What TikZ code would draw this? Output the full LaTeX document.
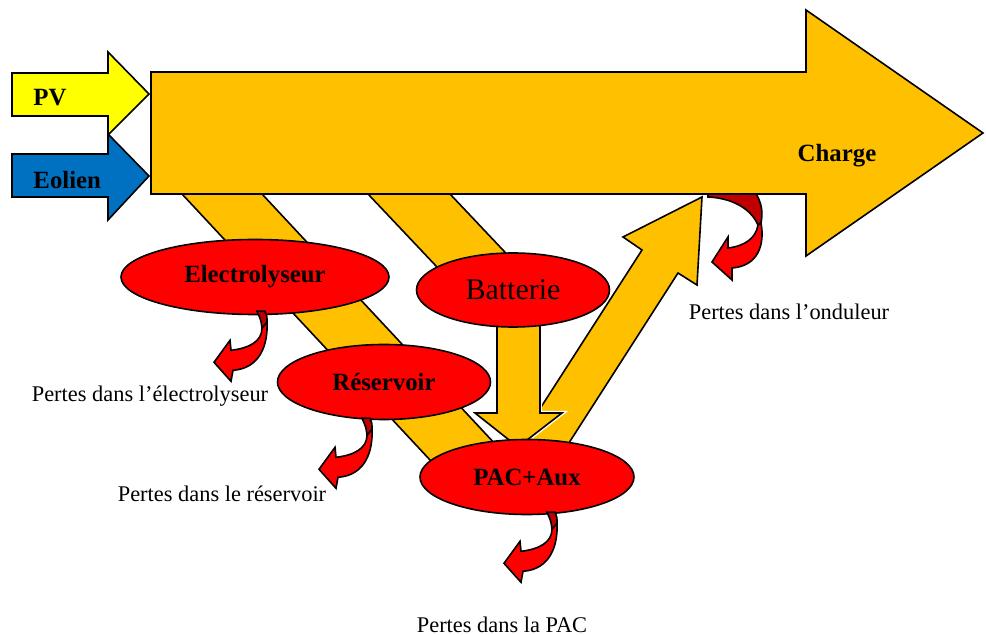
\documentclass[tikz,border=0pt]{standalone}
\usepackage{fontspec}
\setmainfont{Liberation Serif}
\usetikzlibrary{shapes.geometric}
\definecolor{orangeF}{HTML}{FFC000}
\definecolor{jaune}{HTML}{FFFF00}
\definecolor{bleu}{HTML}{0070C0}
\definecolor{rouge}{HTML}{FF0000}
\definecolor{rougeF}{HTML}{C00000}
\begin{document}
\begin{tikzpicture}[x=0.5pt,y=-0.5pt,line join=miter,line width=0.8pt,font=\fontsize{11.2}{13}\selectfont]
				\tikzset{
						bande/.style={draw,fill=orangeF},
						gras/.style={font=\fontsize{12.4}{14}\selectfont\bfseries},
						bulle/.style={ellipse,draw,fill=rouge,inner sep=0pt,gras},
						perte/.pic={
								\filldraw[fill=rougeF] (-4,-2)--(4,-2) .. controls (6,3) .. (6,9)--(1,15) .. controls (0,7) .. cycle;
								\filldraw[fill=rouge] (6,9) .. controls (7,30) and (0,55) .. (-28,57)--(-30,68)--(-47,49)--(-31,27)--(-30,37) .. controls (-12,35) and (1,28) .. (1,15)--cycle;
						}
				}
				\useasboundingbox (0,0) rectangle (986,635);
				% flux vers les stockages
				\draw[bande] (182,194)--(262,194)--(524,475)--(444,475)--cycle;
				\draw[bande] (368,194)--(450,194)--(536,285)--(454,285)--cycle;
				\draw[bande] (507,460)--(642,250)--(623,237)--(702,197)--(697,285)--(678,273)--(558,460)--cycle;
				\draw[bande,preaction={draw=white,line width=2.2pt}] (497,300)--(540,300)--(540,413)--(562,413)--(518,447)--(475,413)--(497,413)--cycle;
				% ellipses
				\node[bulle,minimum width=134pt,minimum height=37.5pt] (elec) at (255,277) {Electrolyseur};
				\node[bulle,minimum width=96.5pt,minimum height=37pt,font=\fontsize{15}{18}\selectfont] (bat) at (513,290) {Batterie};
				\node[bulle,minimum width=106.5pt,minimum height=37.5pt] (res) at (384,382) {R\'eservoir};
				\node[bulle,minimum width=107pt,minimum height=37.5pt] (pac) at (527,477) {PAC+Aux};
				\foreach \n/\dx/\dy in {elec/6/-2,res/-18/0,pac/24/-1}{
						\pic at ([shift={(\dx,\dy)}]\n.south) {perte};
				}
				% pertes onduleur
				\filldraw[fill=rougeF] (708,192)--(755,192) .. controls (762,203) and (763,212) .. (761,223)--(758,225) .. controls (750,207) and (730,198) .. (708,197)--cycle;
				\filldraw[fill=rouge] (761,223) .. controls (765,245) and (758,266) .. (732,268)--(732,280)--(712,262)--(728,237)--(728,248) .. controls (745,246) and (756,238) .. (758,225)--cycle;
				% fleche principale
				\draw[bande] (151,72)--(806,72)--(806,10)--(983,133)--(806,256)--(806,194)--(151,194)--cycle;
				\node[gras] (charge) at (837,156) {Charge};
				\draw[fill=jaune] (12,73)--(108,73)--(108,52)--(149,94)--(108,135)--(108,116)--(12,116)--cycle;
				\draw[fill=bleu] (12,154)--(108,154)--(108,134)--(149,176)--(108,220)--(108,197)--(12,197)--cycle;
				\node[gras,anchor=west] (pv) at (26,98) {PV};
				\node[gras,anchor=west] (eol) at (26,180) {Eolien};
				% legendes
				\node (pelec) at (150,396) {Pertes dans l’électrolyseur};
				\node (pres) at (222,494) {Pertes dans le réservoir};
				\node (ppac) at (502,625) {Pertes dans la PAC};
				\node (pond) at (789,312) {Pertes dans l’onduleur};
			\end{tikzpicture}
\end{document}
